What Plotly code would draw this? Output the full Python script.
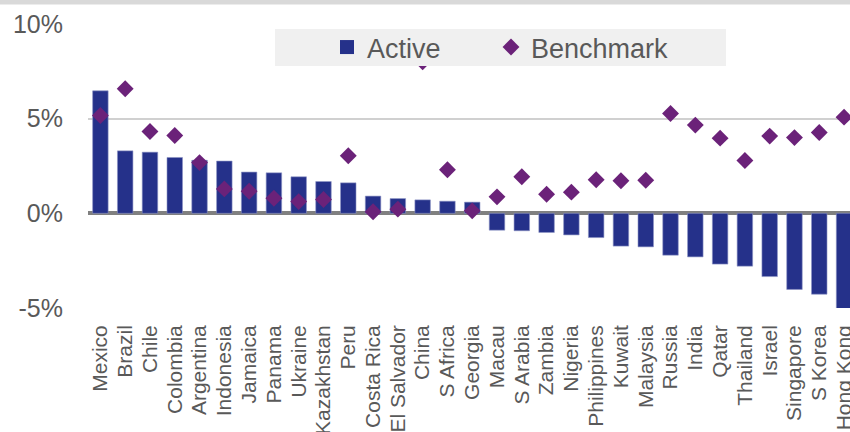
import plotly.graph_objects as go

countries = ["Mexico", "Brazil", "Chile", "Colombia", "Argentina", "Indonesia", "Jamaica",
             "Panama", "Ukraine", "Kazakhstan", "Peru", "Costa Rica", "El Salvador", "China",
             "S Africa", "Georgia", "Macau", "S Arabia", "Zambia", "Nigeria", "Philippines",
             "Kuwait", "Malaysia", "Russia", "India", "Qatar", "Thailand", "Israel",
             "Singapore", "S Korea", "Hong Kong"]

active = [6.47, 3.30, 3.23, 2.95, 2.80, 2.76, 2.18, 2.14, 1.93, 1.68, 1.61, 0.91, 0.78, 0.71,
          0.64, 0.59, -0.89, -0.92, -1.01, -1.14, -1.28, -1.73, -1.77, -2.21, -2.30, -2.68,
          -2.79, -3.34, -4.02, -4.27, -5.20]

benchmark = [5.17, 6.58, 4.32, 4.11, 2.68, 1.29, 1.17, 0.80, 0.62, 0.73, 3.04, 0.08, 0.22, 8.0,
             2.30, 0.13, 0.87, 1.93, 1.01, 1.12, 1.77, 1.72, 1.75, 5.27, 4.66, 3.97, 2.79, 4.08,
             4.00, 4.27, 5.08]

y_tick_vals = [-5, 0, 5, 10]
y_tick_text = ["-5%", "0%", "5%", "10%"]

BAR = "#25318a"
DIAM = "#6b2279"
TXT = "#595959"
FONT = "Liberation Sans, Arial, sans-serif"

W, H = 850, 432
L, R, T, B = 88, 0, 24, 124
pw, ph = W - L - R, H - T - B


def px_x(x):
    return (x - L) / pw


def px_y(y):
    return (H - B - y) / ph


fig = go.Figure()
fig.add_trace(go.Bar(
    x=countries, y=active, name="Active", showlegend=False,
    marker=dict(color=BAR, line=dict(color="#8d93c4", width=0.6)),
))
fig.add_trace(go.Scatter(
    x=countries, y=benchmark, name="Benchmark", mode="markers", showlegend=False,
    marker=dict(symbol="diamond", size=13, color=DIAM, line=dict(width=0)),
))
# legend entries
fig.add_trace(go.Scatter(
    x=[None], y=[None], name="Active", mode="markers", legend="legend",
    marker=dict(symbol="square", size=14, color=BAR),
))
fig.add_trace(go.Scatter(
    x=[None], y=[None], name="Benchmark", mode="markers", legend="legend2",
    marker=dict(symbol="diamond", size=13, color=DIAM),
))

leg_common = dict(
    orientation="h", yanchor="middle", y=px_y(47.5), xanchor="left",
    bgcolor="rgba(0,0,0,0)", borderwidth=0, font=dict(size=27, color=TXT, family=FONT),
)

fig.update_layout(
    template="none",
    width=W, height=H,
    margin=dict(l=L, r=R, t=T, b=B, pad=0),
    paper_bgcolor="white", plot_bgcolor="white",
    font=dict(family=FONT, color=TXT),
    bargap=0.375,
    showlegend=True,
    legend=dict(x=px_x(327), **leg_common),
    legend2=dict(x=px_x(491), **leg_common),
    xaxis=dict(
        range=[-0.5, 30.24], showgrid=False, zeroline=False, showline=False,
        tickmode="array", tickvals=countries, ticktext=countries,
        tickangle=-90, tickfont=dict(size=21, color=TXT, family=FONT),
        ticks="", ticklabelstandoff=12, automargin=False, fixedrange=True,
    ),
    yaxis=dict(
        range=[-5, 10], tickvals=y_tick_vals, ticktext=y_tick_text,
        showgrid=True, gridcolor="#d0d0d0", gridwidth=1.5,
        zeroline=True, zerolinecolor="#808080", zerolinewidth=3.5,
        showline=False, ticks="", ticklabelstandoff=24,
        tickfont=dict(size=25, color=TXT, family=FONT), automargin=False,
    ),
    shapes=[
        dict(type="rect", xref="paper", yref="paper", x0=px_x(0), x1=px_x(W), y0=px_y(4.5), y1=px_y(-1),
             fillcolor="#d9d9d9", line=dict(width=0), layer="above"),
        dict(type="rect", xref="paper", yref="paper", x0=px_x(275), x1=px_x(726), y0=px_y(66), y1=px_y(29),
             fillcolor="#f0f0f0", line=dict(width=0), layer="above"),
    ],
)

fig.write_html("out.html", config={"displayModeBar": False},
               post_script="document.body.style.margin='0px';")
